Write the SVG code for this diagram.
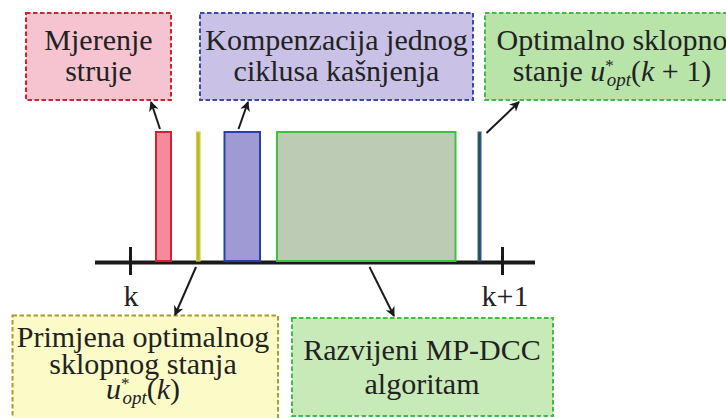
<svg xmlns="http://www.w3.org/2000/svg" width="726" height="418" viewBox="0 0 726 418">
<style>
text{font-family:'Liberation Serif','Times New Roman',serif;font-size:30px;fill:#222;text-anchor:middle}
.box{stroke-width:2;stroke-dasharray:4.5 2.5}
.ar{stroke:#1a1a1a;stroke-width:2;fill:none;marker-end:url(#ah)}
.it{font-style:italic}
.sup{font-size:17px}
.sub{font-size:19px;font-style:italic}
</style>
<defs>
<marker id="ah" viewBox="0 0 10 10" refX="9" refY="5" markerWidth="5" markerHeight="5" orient="auto" markerUnits="strokeWidth">
<path d="M0,0 L10,5 L0,10 L3,5 Z" fill="#1a1a1a"/>
</marker>
</defs>
<rect width="726" height="418" fill="#fff"/>
<g id="timeline">
<line x1="95" y1="262.5" x2="535" y2="262.5" stroke="#1a1a1a" stroke-width="4"/>
<line x1="130.5" y1="247" x2="130.5" y2="275" stroke="#1a1a1a" stroke-width="3"/>
<line x1="502.5" y1="247" x2="502.5" y2="275" stroke="#1a1a1a" stroke-width="3"/>
<text x="131" y="305.5">k</text>
<text x="505" y="305.5">k+1</text>
</g>
<g id="bars">
<rect x="156" y="132" width="15" height="129" fill="#f48a9c" stroke="#d42030" stroke-width="2"/>
<rect x="196.5" y="132" width="3.5" height="129" fill="#b8b830" stroke="#d0d040" stroke-width="1.2"/>
<rect x="224.5" y="132" width="35.5" height="129" fill="#a09ad4" stroke="#2a40a4" stroke-width="2"/>
<rect x="277" y="132" width="178.5" height="129" fill="#bccbb4" stroke="#40c040" stroke-width="2"/>
<rect x="478" y="132" width="3" height="129" fill="#1f5a3c" stroke="#3a56b0" stroke-width="1"/>
</g>
<g id="node-mjerenje">
<rect class="box" x="26" y="13" width="145" height="87" fill="#f6c3d0" stroke="#d42030"/>
<text x="98.5" y="50">Mjerenje</text>
<text x="98.5" y="81">struje</text>
</g>
<g id="node-kompenzacija">
<rect class="box" x="200" y="13" width="273" height="87" fill="#c9c2e6" stroke="#3a4aaa"/>
<text x="336.5" y="50">Kompenzacija jednog</text>
<text x="336.5" y="81">ciklusa kašnjenja</text>
</g>
<g id="node-optimalno">
<rect class="box" x="485" y="13" width="256" height="87" fill="#b8e4aa" stroke="#44bb44"/>
<text x="612" y="50">Optimalno sklopno</text>
<text x="612" y="81">stanje <tspan class="it">u</tspan><tspan class="sup" dy="-10">*</tspan><tspan class="sub" dx="-7" dy="15">opt</tspan><tspan dy="-5">(</tspan><tspan class="it">k</tspan> + 1)</text>
</g>
<g id="node-primjena">
<rect class="box" x="12.5" y="315.5" width="265.5" height="110" fill="#fbfbc8" stroke="#a4a030"/>
<text x="143" y="347">Primjena optimalnog</text>
<text x="143" y="374">sklopnog stanja</text>
<text x="143" y="399"><tspan class="it">u</tspan><tspan class="sup" dy="-10">*</tspan><tspan class="sub" dx="-7" dy="15">opt</tspan><tspan dy="-5">(</tspan><tspan class="it">k</tspan>)</text>
</g>
<g id="node-razvijeni">
<rect class="box" x="292" y="318" width="261" height="98" fill="#c8eab8" stroke="#44bb44"/>
<text x="422" y="360">Razvijeni MP-DCC</text>
<text x="422" y="394">algoritam</text>
</g>
<g id="connectors">
<line class="ar" x1="160" y1="129" x2="151" y2="102"/>
<line class="ar" x1="238.5" y1="129" x2="248" y2="102"/>
<line class="ar" x1="486.5" y1="133" x2="519" y2="102"/>
<line class="ar" x1="196" y1="267" x2="175" y2="315"/>
<line class="ar" x1="369.5" y1="267" x2="394" y2="316"/>
</g>
</svg>
